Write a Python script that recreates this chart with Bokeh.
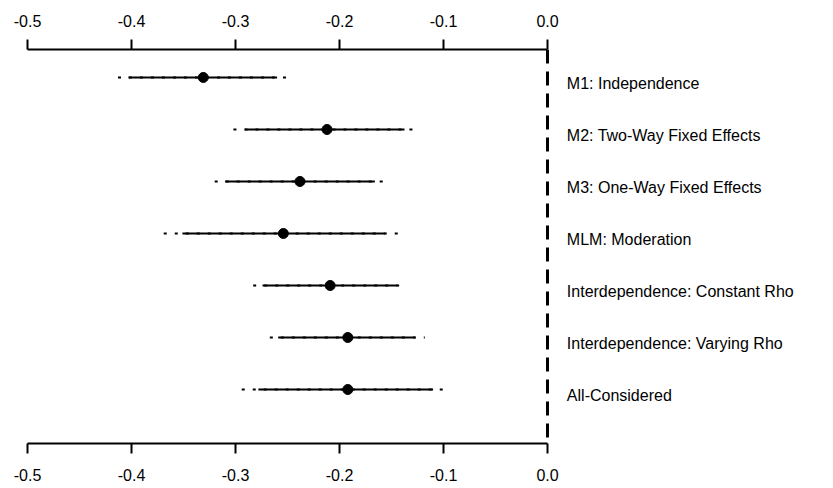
from bokeh.plotting import figure
from bokeh.models import Range1d, LinearAxis, FixedTicker, Span, ColumnDataSource
from bokeh.core.properties import value
from bokeh.embed import file_html
from bokeh.resources import INLINE

labels = ["M1: Independence", "M2: Two-Way Fixed Effects", "M3: One-Way Fixed Effects",
          "MLM: Moderation", "Interdependence: Constant Rho", "Interdependence: Varying Rho",
          "All-Considered"]
rows = [7, 6, 5, 4, 3, 2, 1]
estimate = [-0.331, -0.212, -0.238, -0.254, -0.209, -0.192, -0.192]
inner_lo = [-0.403, -0.291, -0.310, -0.351, -0.274, -0.259, -0.278]
inner_hi = [-0.260, -0.1375, -0.166, -0.156, -0.144, -0.127, -0.110]
outer_lo = [-0.413, -0.302, -0.320, -0.369, -0.283, -0.267, -0.294]
outer_hi = [-0.251, -0.129, -0.158, -0.1375, -0.139, -0.118, -0.094]

tick_values = [-0.5, -0.4, -0.3, -0.2, -0.1, 0.0]
tick_labels = ["-0.5", "-0.4", "-0.3", "-0.2", "-0.1", "0.0"]

src = ColumnDataSource(dict(y=rows, est=estimate, ilo=inner_lo, ihi=inner_hi,
                            olo=outer_lo, ohi=outer_hi, label=labels))

FONT = "Liberation Sans"
p = figure(frame_width=790, frame_height=394,
           min_border_left=27, min_border_right=0, min_border_top=49, min_border_bottom=40,
           x_range=Range1d(-0.5, -0.5 + 790 / 1040), y_range=Range1d(-0.038, 7.538),
           x_axis_location=None, y_axis_location=None,
           output_backend="svg", toolbar_location=None)
p.grid.visible = False
p.outline_line_color = None
p.background_fill_color = "white"
p.border_fill_color = "white"

p.add_layout(Span(location=0.0, dimension="height", line_dash="14 8", line_width=3,
                  line_color="black"))

p.segment(x0="olo", y0="y", x1="ohi", y1="y", source=src, line_color="black",
          line_width=2, line_dash="3 8")
p.segment(x0="ilo", y0="y", x1="ihi", y1="y", source=src, line_color="black",
          line_width=2)
p.scatter(x="est", y="y", source=src, marker="circle", size=10, fill_color="black",
          line_color="black")

p.text(x=0.0186, y="y", text="label", source=src, text_baseline="middle",
       text_align="left", y_offset=6, text_font=value(FONT), text_font_size="16px",
       text_color="black")

overrides = dict(zip(tick_values, tick_labels))
for loc, standoff in (("above", 13), ("below", 15)):
    ax = LinearAxis(ticker=FixedTicker(ticks=tick_values), bounds=(-0.5, 0.0),
                    major_label_overrides=overrides,
                    major_tick_in=0, major_tick_out=10, minor_tick_in=0, minor_tick_out=0,
                    axis_line_width=2, major_tick_line_width=2,
                    axis_line_color="black", major_tick_line_color="black",
                    major_label_standoff=standoff,
                    major_label_text_font=FONT, major_label_text_font_size="16px",
                    major_label_text_color="black")
    p.add_layout(ax, loc)

open("out.html", "w").write(file_html(p, INLINE))
